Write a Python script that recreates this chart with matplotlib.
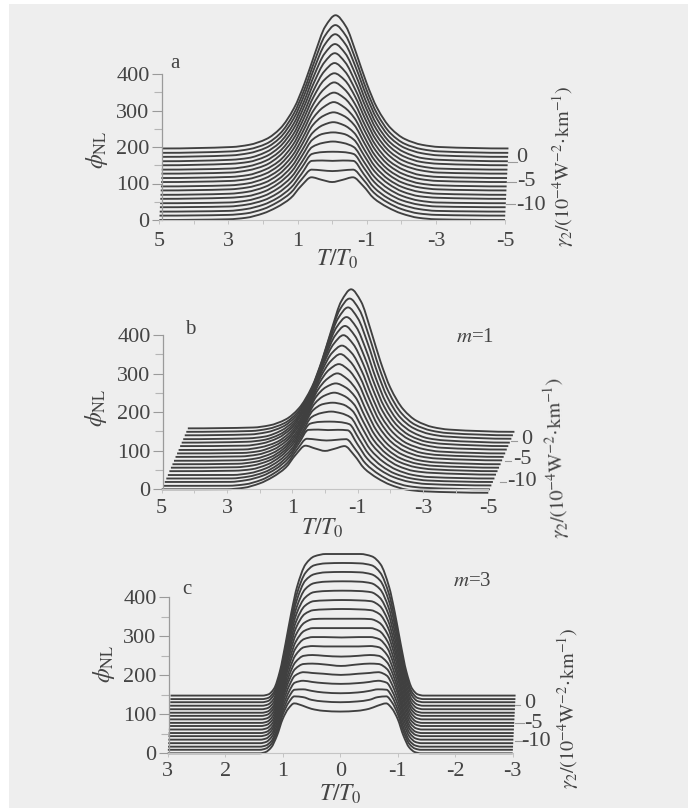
import numpy as np
import matplotlib
matplotlib.use("Agg")
import matplotlib.pyplot as plt
from matplotlib.patches import PathPatch, Rectangle
from matplotlib.path import Path

# ---------- data ----------
# half-profile sample positions (T/T0), curves are mirrored about T = 0
T_ab = [0, 0.3, 0.6, 0.9, 1.2, 1.6, 2, 2.5, 3, 5]
T_c = [0, 0.3, 0.5, 0.65, 0.8, 0.9, 1, 1.1, 1.2, 1.3, 1.4, 3]

# phi_NL rise above each curve's baseline: one row per gamma_2 curve, front to back
rise_ab = [
    [104, 110, 117, 93, 60, 35, 18, 6, 2, 0],
    [122, 124, 126, 98, 63, 36, 18, 6, 2, 0],
    [139, 140, 139, 103, 66, 37, 19, 7, 2, 0],
    [152, 151, 146, 108, 69, 38, 19, 7, 2, 0],
    [169, 165, 154, 113, 72, 40, 20, 7, 2, 0],
    [182, 178, 162, 118, 75, 41, 20, 7, 3, 0],
    [199, 191, 170, 123, 78, 42, 21, 8, 3, 0],
    [214, 204, 179, 128, 81, 43, 21, 8, 3, 0],
    [231, 217, 187, 133, 84, 44, 22, 8, 3, 0],
    [245, 230, 195, 138, 87, 45, 22, 8, 3, 0],
    [262, 243, 203, 143, 90, 46, 23, 8, 3, 0],
    [275, 256, 211, 148, 93, 48, 23, 9, 3, 0],
    [292, 269, 219, 153, 96, 49, 24, 9, 3, 0],
    [307, 282, 227, 158, 99, 50, 24, 9, 4, 0],
    [321, 295, 236, 163, 102, 51, 25, 9, 4, 0],
    [336, 308, 244, 168, 105, 52, 25, 10, 4, 0],
    [350, 321, 252, 173, 108, 53, 25, 10, 4, 0],
    [365, 334, 260, 178, 111, 55, 26, 10, 4, 0],
]
rise_c = [
    [107, 109, 114, 122, 128, 115, 88, 45, 15, 3, 0, 0],
    [122, 124, 128, 135, 137, 121, 91, 46, 15, 3, 0, 0],
    [137, 139, 143, 147, 146, 127, 93, 47, 15, 3, 0, 0],
    [152, 154, 157, 160, 155, 132, 96, 48, 16, 3, 0, 0],
    [166, 169, 171, 173, 164, 138, 99, 49, 16, 3, 0, 0],
    [180, 184, 186, 185, 172, 144, 102, 50, 16, 3, 0, 0],
    [196, 198, 200, 198, 181, 150, 104, 51, 16, 3, 0, 0],
    [213, 213, 214, 211, 190, 155, 107, 52, 16, 3, 0, 0],
    [227, 228, 228, 223, 199, 161, 110, 53, 16, 3, 0, 0],
    [243, 243, 243, 236, 208, 167, 112, 54, 17, 3, 0, 0],
    [258, 258, 257, 248, 217, 173, 115, 55, 17, 3, 0, 0],
    [274, 273, 271, 261, 226, 178, 118, 56, 17, 3, 0, 0],
    [289, 288, 286, 274, 235, 184, 120, 57, 17, 3, 0, 0],
    [304, 303, 300, 286, 244, 190, 123, 58, 17, 3, 0, 0],
    [319, 318, 314, 299, 252, 196, 126, 59, 17, 3, 0, 0],
    [334, 333, 328, 312, 261, 202, 129, 60, 18, 3, 0, 0],
    [349, 348, 343, 324, 270, 207, 131, 61, 18, 3, 0, 0],
    [363, 363, 357, 337, 279, 213, 134, 62, 18, 3, 0, 0],
]
# phi_NL of each curve's flat wing, front to back
base_a = [0, 12, 23, 35, 46, 58, 69, 81, 92, 104, 115, 127, 138, 150, 161, 173, 184, 196]
base_b = [0, 9, 19, 28, 37, 47, 56, 65, 74, 84, 93, 102, 112, 121, 130, 140, 149, 158]
base_c = [0, 9, 17, 26, 35, 44, 52, 61, 70, 78, 87, 96, 104, 113, 122, 131, 139, 148]

xticks_ab = [5, 3, 1, -1, -3, -5]
xminor_ab = [4, 2, 0, -2, -4]
xticks_c = [3, 2, 1, 0, -1, -2, -3]
yticks = [0, 100, 200, 300, 400]
yminor = [50, 150, 250, 350]
gamma_labels = ["0", "-5", "-10"]

# ---------- style and layout (pixels of the 696x808 picture) ----------
W, H = 696, 808
SERIF = ["Liberation Serif", "DejaVu Serif"]
INK = "#404040"
TEXT = "#444444"
AXC = "#9a9a9a"
plt.rcParams["font.family"] = SERIF
plt.rcParams["mathtext.fontset"] = "stix"

fig = plt.figure(figsize=(W / 100, H / 100), dpi=100, facecolor="white")
fig.add_artist(Rectangle((9 / W, 0), 679 / W, 1 - 4 / H, transform=fig.transFigure,
                         facecolor="#eeeeee", edgecolor="none", zorder=-10))


def ftext(x, y, s, **kw):
    kw.setdefault("ha", "center")
    kw.setdefault("va", "center")
    kw.setdefault("color", TEXT)
    kw.setdefault("fontsize", 16)
    return fig.text(x / W, 1 - y / H, s, **kw)


def ftick(x0, x1, y):
    fig.add_artist(plt.Line2D([x0 / W, x1 / W], [1 - y / H, 1 - y / H], color=AXC, lw=0.8))


def pchip_slopes(x, y):
    h = np.diff(x)
    d = np.diff(y) / h
    m = np.zeros_like(y)
    for i in range(1, len(x) - 1):
        if d[i - 1] * d[i] > 0:
            w1 = 2 * h[i] + h[i - 1]
            w2 = h[i] + 2 * h[i - 1]
            m[i] = (w1 + w2) / (w1 / d[i - 1] + w2 / d[i])
    return m


def curve_path(x, y):
    m = pchip_slopes(x, y)
    verts = [(x[0], y[0])]
    codes = [Path.MOVETO]
    for i in range(len(x) - 1):
        h = (x[i + 1] - x[i]) / 3
        verts += [(x[i] + h, y[i] + m[i] * h),
                  (x[i + 1] - h, y[i + 1] - m[i + 1] * h),
                  (x[i + 1], y[i + 1])]
        codes += [Path.CURVE4] * 3
    return Path(verts, codes)


def panel(px_left, px_right, px_y0, px_y400, tmax, T_half, rise, base, skew, tilt,
          xticks, xminor, spine_offset, xpad):
    ax = fig.add_axes([px_left / W, 1 - px_y0 / H, (px_right - px_left) / W,
                       (px_y0 - px_y400) / H])
    ax.patch.set_alpha(0)
    ax.set_xlim(tmax, -tmax)
    ax.set_ylim(0, 400)
    for s in ("top", "right"):
        ax.spines[s].set_visible(False)
    ax.spines["left"].set_color(AXC)
    ax.spines["left"].set_linewidth(0.9)
    ax.spines["left"].set_position(("outward", -spine_offset))
    ax.spines["bottom"].set_color("#c4c4c4")
    ax.spines["bottom"].set_linewidth(0.8)
    ax.set_yticks(yticks)
    ax.set_yticklabels([str(v) for v in yticks], fontsize=16, color=TEXT)
    ax.set_yticks(yminor, minor=True)
    ax.tick_params(axis="y", which="major", length=7, width=0.8, color=AXC, pad=2)
    ax.tick_params(axis="y", which="minor", length=6, width=0.8, color="#b5b5b5")
    ax.set_xticks(xticks)
    ax.set_xticklabels([str(v) for v in xticks], fontsize=16, color=TEXT)
    ax.set_xticks(xminor, minor=True)
    ax.tick_params(axis="x", which="major", length=3, width=0.7, color="#c4c4c4", pad=xpad)
    ax.tick_params(axis="x", which="minor", length=3, width=0.7, color="#c4c4c4")

    half = np.array(T_half, float)
    T = np.concatenate([-half[:0:-1], half])          # ascending T
    n = len(rise) - 1
    for r, (row, b) in enumerate(zip(rise, base)):
        row = np.array(row, float)
        y = np.concatenate([row[:0:-1], row]) + b + tilt * (tmax - T)
        x = T - skew * r / n
        ax.add_patch(PathPatch(curve_path(x, y), fill=False, edgecolor=INK, lw=1.35,
                               clip_on=False, capstyle="butt", joinstyle="round"))
    return ax


panel(159.3, 505, 220, 74, 5, T_ab, rise_ab, base_a, 0.10, 0.0, xticks_ab, xminor_ab, 2, 6)
panel(161.7, 488.3, 489.3, 335, 5, T_ab, rise_ab, base_b, 0.80, -0.9, xticks_ab, xminor_ab, 1, 4)
panel(167.7, 512.7, 753.3, 597.3, 3, T_c, rise_c, base_c, 0.05, 0.0, xticks_c, [], 1, 3.5)

# axis titles
for x, y in [(337, 259), (322, 528), (340, 794)]:
    ftext(x, y, r"$T/T_0$", fontsize=17)
phi = r"$\phi_{\mathrm{NL}}$"
for x, y in [(97, 150), (96, 408), (104, 664)]:
    ftext(x, y, phi, rotation=90, fontsize=17)
gam = r"$\gamma_2/(10^{-4}\mathrm{W}^{-2}\!\cdot\!\mathrm{km}^{-1})$"
ftext(563, 166, gam, rotation=90, fontsize=14.5)
ftext(556, 458, gam, rotation=92, fontsize=14.5)
ftext(568, 708, gam, rotation=90, fontsize=14.5)

# panel letters and m labels
ftext(175, 63, "a", fontsize=15)
ftext(190, 330, "b", fontsize=15)
ftext(187, 590, "c", fontsize=15)
ftext(475, 337, r"$m$=1", fontsize=15)
ftext(472, 582, r"$m$=3", fontsize=15)

# gamma_2 scale on the right
for (x, y, tk), s in zip([(522, 157, (508, 517, 162)), (526, 182, (507, 516, 182)),
                          (531, 205, (506, 515, 204))], gamma_labels):
    ftext(x, y, s)
    ftick(*tk)
for (x, y, tk), s in zip([(527, 439, (511, 517, 441)), (522, 460, (505, 511, 461)),
                          (522, 482, (500, 506, 482))], gamma_labels):
    ftext(x, y, s)
    ftick(*tk)
for (x, y, tk), s in zip([(530, 703, (515, 520, 705)), (533, 723, (515, 524, 723)),
                          (536, 742, (515, 524, 741))], gamma_labels):
    ftext(x, y, s)
    ftick(*tk)

fig.savefig("out.png", dpi=100)
